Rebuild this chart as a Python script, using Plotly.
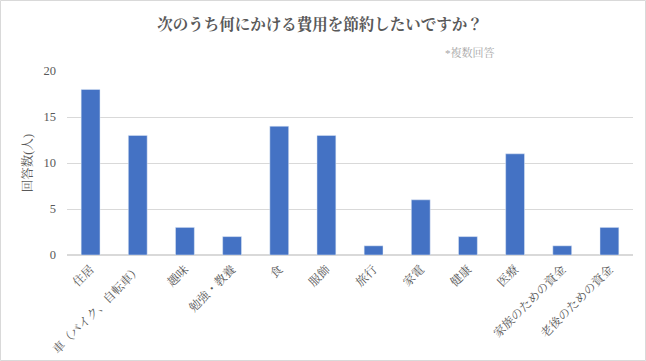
import plotly.graph_objects as go

categories = ["住居", "車（バイク、自転車）", "趣味", "勉強・教養", "食", "服飾", "旅行",
              "家電", "健康", "医療", "家族のための資金", "老後のための資金"]
values = [18, 13, 3, 2, 14, 13, 1, 6, 2, 11, 1, 3]
y_ticks = [0, 5, 10, 15, 20]

W, H = 646, 361
ml, mr, mt, mb = 67, 13, 71, 106
pw, ph = W - ml - mr, H - mt - mb

fig = go.Figure(go.Bar(x=categories, y=values, marker_color="#4472C4", width=0.4))

font_main = "Liberation Serif, Noto Serif CJK JP, Noto Sans CJK JP, serif"

fig.update_layout(
    width=W, height=H,
    margin=dict(l=ml, r=mr, t=mt, b=mb),
    paper_bgcolor="white", plot_bgcolor="white",
    font=dict(family=font_main, color="#595959", size=12),
    showlegend=False,
    title=dict(text="<b>次のうち何にかける費用を節約したいですか？</b>",
               x=(320 - ml) / pw, xref="paper", xanchor="center", y=1 - 25 / H, yanchor="middle",
               font=dict(size=15.5, color="#595959", family=font_main)),
    xaxis=dict(tickangle=-45, showgrid=False, showline=False, ticks="",
               tickfont=dict(size=12, color="#595959"), automargin=False,
               ticklabelstandoff=4),
    yaxis=dict(range=[0, 20], tickvals=y_ticks, showgrid=True, gridcolor="#D9D9D9",
               zeroline=True, zerolinecolor="#D9D9D9", showline=False, ticks="",
               tickfont=dict(size=12.5, color="#595959"), automargin=False,
               ticklabelstandoff=10,
               title=dict(text="回答数(人)", font=dict(size=12.5, color="#595959"), standoff=8)),
    annotations=[dict(text="*複数回答", xref="paper", yref="paper",
                      x=(497 - ml) / pw, y=1 + (mt - 52) / ph, xanchor="right", yanchor="middle",
                      showarrow=False, font=dict(size=11, color="#A6A6A6"))],
    shapes=[dict(type="rect", xref="paper", yref="paper",
                 x0=(0.5 - ml) / pw, x1=(W - 0.5 - ml) / pw,
                 y0=-(mb - 0.5) / ph, y1=1 + (mt - 0.5) / ph,
                 line=dict(color="#D9D9D9", width=1), layer="below")],
)

fig.write_html("out.html", post_script="document.body.style.margin='0';",
               config={"displayModeBar": False})
